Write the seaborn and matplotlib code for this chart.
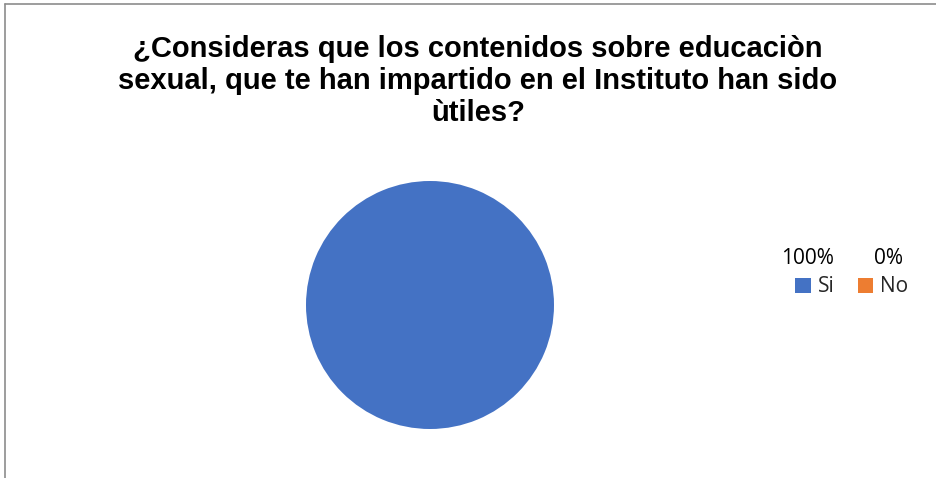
import matplotlib
matplotlib.use("Agg")
import matplotlib.pyplot as plt
from matplotlib.lines import Line2D
from matplotlib.patches import Patch
import seaborn as sns

sns.set_theme(style="white")

# data
categories = ["Si", "No"]
counts = [100, 0]
colors = ["#4472C4", "#ED7D31"]
title = "¿Consideras que los contenidos sobre educaciòn\nsexual, que te han impartido en el Instituto han sido\nùtiles?"

fig = plt.figure(figsize=(9.37, 4.78), dpi=100)
W, H = 937, 478

# pie area: center ~ (430, 305), radius ~124 px
r = 124
ax = fig.add_axes([(430 - r) / W, 1 - (305 + r) / H, 2 * r / W, 2 * r / H])
ax.pie(counts, colors=colors, startangle=90, counterclock=False,
       wedgeprops=dict(linewidth=0))
ax.set_xlim(-1, 1)
ax.set_ylim(-1, 1)
ax.set_aspect("equal")
ax.axis("off")

fig.text(478 / W, 1 - 81 / H, title, ha="center", va="center",
         fontsize=21, fontweight="bold", family="Liberation Sans",
         linespacing=1.2, color="black")

# legend with percentage labels above each entry
total = sum(counts)
pct = [f"{round(c / total * 100)}%" for c in counts]
handles = [Patch(facecolor=c, edgecolor="none") for c in colors]
leg = fig.legend(handles, categories, loc="center left",
                 bbox_to_anchor=(795 / W, 1 - 287 / H), ncol=2, frameon=False,
                 prop=dict(family="Open Sans", size=15), handlelength=0.75,
                 handleheight=0.75, handletextpad=0.35, columnspacing=1.1,
                 borderpad=0, borderaxespad=0)
pct_x = [808, 889]
for x, p in zip(pct_x, pct):
    fig.text(x / W, 1 - 258 / H, p, ha="center", va="center",
             family="Open Sans", fontsize=15, color="black")

# chart frame (top and left edges visible)
fig.add_artist(Line2D([5 / W, 1], [1 - 3.5 / H, 1 - 3.5 / H], color="#8c8c8c",
                      linewidth=1.2, transform=fig.transFigure))
fig.add_artist(Line2D([5 / W, 5 / W], [0, 1 - 3.5 / H], color="#8c8c8c",
                      linewidth=1.2, transform=fig.transFigure))

fig.savefig("out.png", dpi=100, facecolor="white")
